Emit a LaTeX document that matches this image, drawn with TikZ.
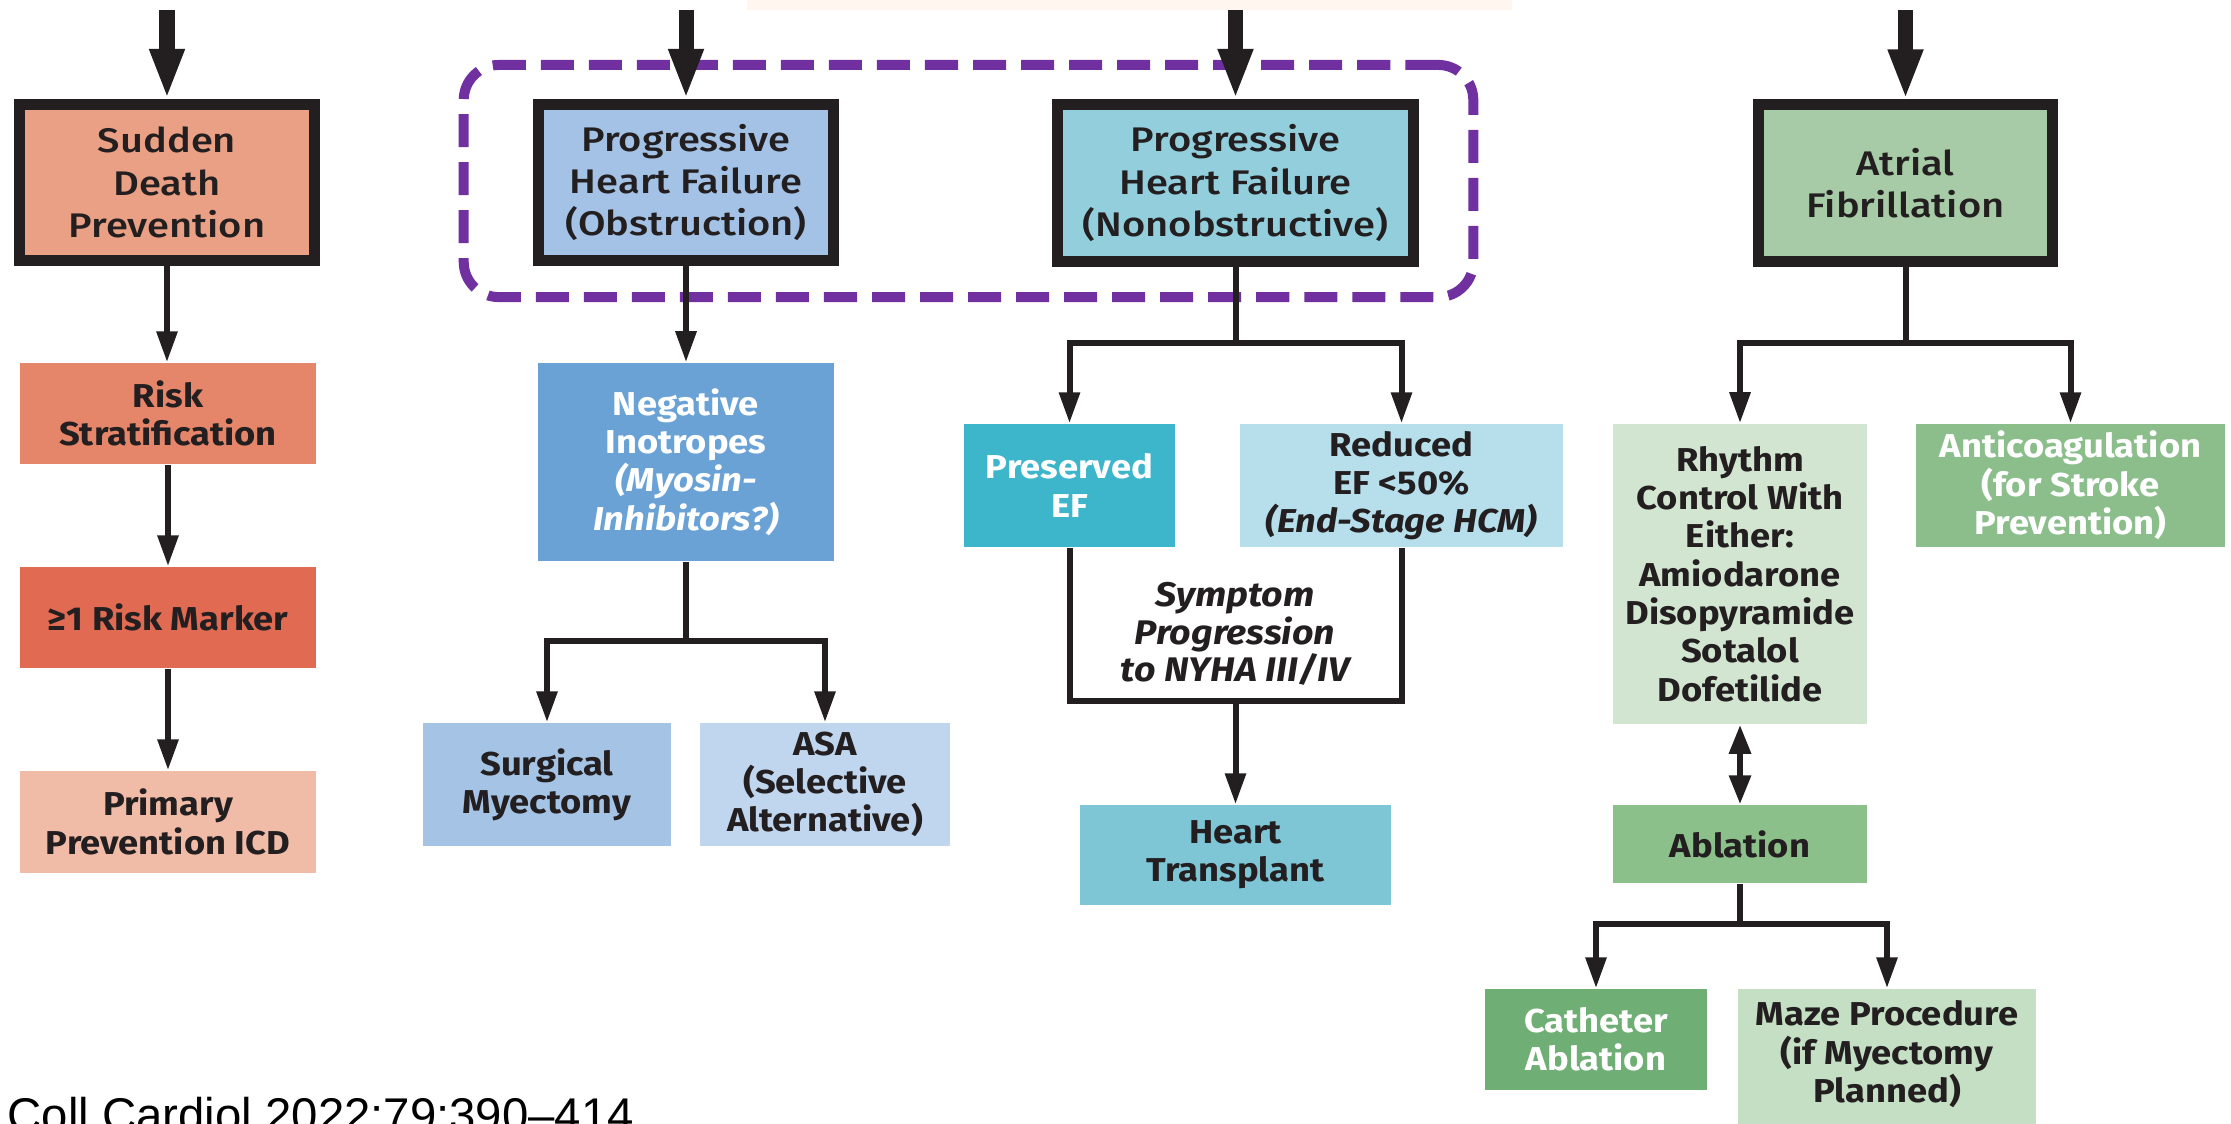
\documentclass[tikz,border=0pt]{standalone}
\usepackage{fontspec}
\setmainfont{Fira Sans}[FakeStretch=1.1]
\IfFontExistsTF{Fira Sans Medium}
  {\newfontfamily\topfont{Fira Sans Medium}[FakeStretch=1.17]}
  {\newfontfamily\topfont{Fira Sans}[FakeStretch=1.2]}
\newfontfamily\citefont{Liberation Sans}
\usetikzlibrary{arrows.meta}
\definecolor{ink}{HTML}{231F20}
\definecolor{cSDP}{RGB}{234,160,133}
\definecolor{cRS}{RGB}{229,134,106}
\definecolor{cRM}{RGB}{224,106,82}
\definecolor{cPP}{RGB}{240,187,167}
\definecolor{cOBS}{RGB}{163,194,230}
\definecolor{cNI}{RGB}{106,162,214}
\definecolor{cSM}{RGB}{165,195,229}
\definecolor{cASA}{RGB}{192,213,238}
\definecolor{cNON}{RGB}{146,206,220}
\definecolor{cPEF}{RGB}{61,181,203}
\definecolor{cREF}{RGB}{182,222,235}
\definecolor{cHT}{RGB}{126,197,214}
\definecolor{cAF}{RGB}{167,203,166}
\definecolor{cRC}{RGB}{210,229,209}
\definecolor{cAC}{RGB}{140,190,140}
\definecolor{cABL}{RGB}{140,192,139}
\definecolor{cCA}{RGB}{111,174,116}
\definecolor{cMZ}{RGB}{197,223,196}
\definecolor{cPUR}{RGB}{112,48,160}
\definecolor{cBAND}{RGB}{254,246,239}
\begin{document}
\begin{tikzpicture}[x=0.01cm,y=-0.01cm,
  topbox/.style={draw=ink, line width=0.11cm, inner sep=0pt, align=center, text=ink,
    font=\topfont\fontsize{9.7}{12}\selectfont},
  subbox/.style={inner sep=0pt, align=center, text=ink,
    font=\fontsize{9.4}{10.9}\selectfont\bfseries},
  conn/.style={draw=ink, line width=0.06cm},
  tip/.style={-{Triangle[width=0.2cm,length=0.31cm]}},
  bigarrow/.style={draw=ink, line width=0.15cm, -{Triangle[width=0.32cm,length=0.5cm]}},
  group/.style={draw=cPUR, line width=0.1cm, dash pattern=on 0.33cm off 0.15cm,
    rounded corners=0.35cm, inner sep=0pt},
]
\useasboundingbox (0,0) rectangle (2231,1123);
\clip (0,0) rectangle (2231,1123);
\fill[white] (0,0) rectangle (2231,1123);
\fill[cBAND] (747,0) rectangle (1512,10);

% dashed group frame
\node[group, minimum width=10.09cm, minimum height=2.32cm] (grp) at (968.5,181) {};

% top-level boxes
\node[topbox, fill=cSDP, minimum width=2.95cm, minimum height=1.56cm] (sdp) at (167,182.5) {Sudden\\Death\\Prevention};
\node[topbox, fill=cOBS, minimum width=2.95cm, minimum height=1.56cm] (obs) at (686,182.5) {Progressive\\Heart Failure\\(Obstruction)};
\node[topbox, fill=cNON, minimum width=3.56cm, minimum height=1.57cm] (non) at (1235.5,183) {Progressive\\Heart Failure\\(Nonobstructive)};
\node[topbox, fill=cAF, minimum width=2.94cm, minimum height=1.56cm] (af) at (1905.5,183) {Atrial\\Fibrillation};

% column 1
\node[subbox, fill=cRS, minimum width=2.96cm, minimum height=1.01cm] (rs) at (168,413.5) {Risk\\Stratification};
\node[subbox, fill=cRM, minimum width=2.96cm, minimum height=1.01cm] (rm) at (168,617.5) {≥1 Risk Marker};
\node[subbox, fill=cPP, minimum width=2.96cm, minimum height=1.02cm] (pp) at (168,822) {Primary\\Prevention ICD};

% column 2
\node[subbox, fill=cNI, text=white, minimum width=2.96cm, minimum height=1.98cm] (ni) at (686,462) {Negative\\Inotropes\\\textit{(Myosin-}\\\textit{Inhibitors?)}};
\node[subbox, fill=cSM, minimum width=2.48cm, minimum height=1.23cm] (sm) at (547,784.5) {Surgical\\Myectomy};
\node[subbox, fill=cASA, minimum width=2.50cm, minimum height=1.23cm] (asa) at (825,784.5) {ASA\\(Selective\\Alternative)};

% column 3
\node[subbox, fill=cPEF, text=white, minimum width=2.11cm, minimum height=1.23cm] (pef) at (1069.5,485.5) {Preserved\\EF};
\node[subbox, fill=cREF, minimum width=3.23cm, minimum height=1.23cm] (ref) at (1401.5,485.5) {Reduced\\EF <50\%\\\textit{(End-Stage HCM)}};
\node[subbox, font=\fontsize{9.7}{10.7}\selectfont\bfseries\itshape] (sym) at (1235,634) {Symptom\\Progression\\to NYHA III/IV};
\node[subbox, fill=cHT, minimum width=3.11cm, minimum height=1.00cm] (ht) at (1235.5,855) {Heart\\Transplant};

% column 4
\node[subbox, fill=cRC, minimum width=2.54cm, minimum height=3.00cm] (rc) at (1740,574) {Rhythm\\Control With\\Either:\\Amiodarone\\Disopyramide\\Sotalol\\Dofetilide};
\node[subbox, fill=cAC, text=white, minimum width=3.09cm, minimum height=1.23cm] (ac) at (2070.5,485.5) {Anticoagulation\\(for Stroke\\Prevention)};
\node[subbox, fill=cABL, minimum width=2.54cm, minimum height=0.78cm] (abl) at (1740,844) {Ablation};
\node[subbox, fill=cCA, text=white, minimum width=2.22cm, minimum height=1.01cm] (ca) at (1596,1039.5) {Catheter\\Ablation};
\node[subbox, fill=cMZ, minimum width=2.98cm, minimum height=1.56cm] (mz) at (1887,1067) {};
\node[subbox, anchor=north] (mzt) at (1887,1000) {Maze Procedure\\(if Myectomy\\Planned)};

% top entry arrows
\coordinate (t1) at (167,10);
\coordinate (t2) at (686,10);
\coordinate (t3) at (1235.5,10);
\coordinate (t4) at (1905.5,10);
\draw[bigarrow] (t1) -- (sdp.north);
\draw[bigarrow] (t2) -- (obs.north);
\draw[bigarrow] (t3) -- (non.north);
\draw[bigarrow] (t4) -- (af.north);

% column 1 connectors
\draw[conn, tip] (sdp.south) -- (sdp.south |- rs.north);
\draw[conn, tip] (rs.south) -- (rm.north);
\draw[conn, tip] (rm.south) -- (pp.north);

% column 2 connectors
\draw[conn, tip] (obs.south) -- (ni.north);
\coordinate (nij) at (686,641);
\draw[conn, tip] (ni.south) -- (nij) -| (sm.north);
\draw[conn, tip] (ni.south) -- (nij) -| (asa.north);

% column 3 connectors
\coordinate (nonj) at (1235.5,343);
\draw[conn, tip] (non.south) -- (nonj) -| (pef.north);
\draw[conn, tip] (non.south) -- (nonj) -| (ref.north);
\coordinate (sj) at (1235.5,701);
\draw[conn] (pef.south) |- (sj) -| (ref.south);
\draw[conn, tip] (sj) -- (ht.north);

% column 4 connectors
\coordinate (afj) at (1905.5,343);
\draw[conn, tip] (af.south) -- (afj) -| (rc.north);
\draw[conn, tip] (af.south) -- (afj) -| (ac.north);
\draw[conn, {Triangle[width=0.21cm,length=0.29cm]}-{Triangle[width=0.21cm,length=0.29cm]}] (rc.south) -- (abl.north);
\coordinate (ablj) at (1740,924);
\draw[conn, tip] (abl.south) -- (ablj) -| (ca.north);
\draw[conn, tip] (abl.south) -- (ablj) -| (mz.north);

% citation
\node[anchor=base west, inner sep=0pt, font=\citefont\fontsize{13.46}{16}\selectfont] (cite) at (7,1131) {Coll Cardiol 2022:79:390–414};
\end{tikzpicture}
\end{document}
